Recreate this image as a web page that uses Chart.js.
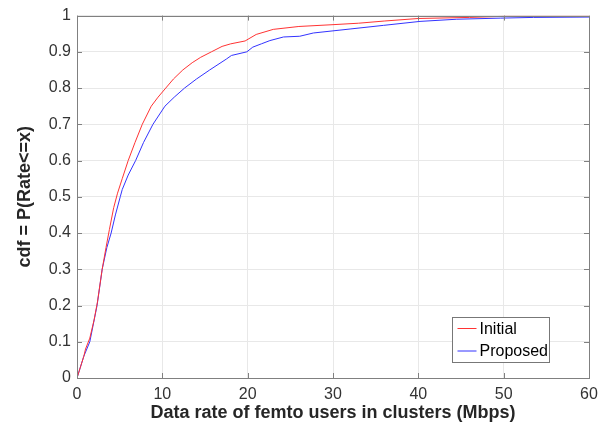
<!DOCTYPE html>
<html lang="en">
<head>
    <meta charset="UTF-8">
    <title>CDF of femto user data rate</title>
    <script src="https://cdn.jsdelivr.net/npm/chart.js"></script>
    <style>
        body { margin: 0; background: #fff; }
        #wrap { width: 611px; height: 428px; }
    </style>
</head>
<body>
<div id="wrap"><canvas id="cdfChart" width="611" height="428"></canvas></div>

<script>
    // data
    const initialX = [0, 0.4, 0.8, 1.0, 1.5, 2.0, 2.4, 2.95, 3.4, 3.8, 4.3, 4.75, 5.3, 6.0, 6.8, 7.65, 8.7, 9.5, 10.4, 11.3, 12.4, 13.5, 14.5, 15.75, 17.0, 18.0, 19.7, 21.0, 23.0, 26.0, 30.0, 33.0, 36.0, 40.0, 46.0, 50.0, 60.0];
    const initialY = [0, 0.03, 0.06, 0.08, 0.11, 0.16, 0.21, 0.30, 0.36, 0.41, 0.47, 0.51, 0.55, 0.60, 0.65, 0.70, 0.75, 0.775, 0.80, 0.825, 0.85, 0.87, 0.885, 0.90, 0.915, 0.922, 0.93, 0.948, 0.962, 0.970, 0.975, 0.979, 0.985, 0.992, 0.995, 0.998, 0.998];
    const proposedX = [0, 0.8, 1.5, 2.35, 2.95, 3.5, 4.0, 4.5, 5.07, 5.3, 6.0, 6.87, 7.8, 8.9, 10.3, 11.4, 12.6, 14.0, 15.55, 17.5, 18.1, 19.9, 20.6, 21.6, 22.6, 24.2, 26.1, 27.7, 32.0, 35.9, 40.2, 44.5, 49.6, 53.5, 60.0];
    const proposedY = [0, 0.06, 0.10, 0.20, 0.30, 0.36, 0.40, 0.45, 0.50, 0.52, 0.56, 0.60, 0.65, 0.70, 0.75, 0.775, 0.80, 0.825, 0.85, 0.88, 0.89, 0.90, 0.913, 0.922, 0.931, 0.941, 0.943, 0.952, 0.963, 0.973, 0.984, 0.990, 0.993, 0.995, 0.996];
    const seriesNames = ['Initial', 'Proposed'];
    const seriesColors = ['#ff3333', '#3333ff'];

    const toPoints = (xs, ys) => xs.map((x, i) => ({ x: x, y: ys[i] }));

    const fontFamily = '"Liberation Sans", Arial, Helvetica, sans-serif';
    const axisColor = '#808080';

    // box round the plot, inward tick marks and the legend inside the axes
    const matlabAxes = {
        id: 'matlabAxes',
        afterDraw(chart) {
            const ctx = chart.ctx;
            const a = chart.chartArea;
            const xs = chart.scales.x, ys = chart.scales.y;
            ctx.save();
            ctx.strokeStyle = axisColor;
            ctx.lineWidth = 1;
            ctx.beginPath();
            xs.ticks.forEach(t => {
                const px = Math.round(xs.getPixelForValue(t.value)) + 0.5;
                ctx.moveTo(px, a.bottom); ctx.lineTo(px, a.bottom - 5);
                ctx.moveTo(px, a.top); ctx.lineTo(px, a.top + 5);
            });
            ys.ticks.forEach(t => {
                const py = Math.round(ys.getPixelForValue(t.value)) + 0.5;
                ctx.moveTo(a.left, py); ctx.lineTo(a.left + 5, py);
                ctx.moveTo(a.right, py); ctx.lineTo(a.right - 5, py);
            });
            ctx.stroke();
            ctx.strokeRect(Math.round(a.left) + 0.5, Math.round(a.top) + 0.5,
                Math.round(a.right - a.left), Math.round(a.bottom - a.top));

            // legend box
            const lx = 452.5, ly = 317.5, lw = 97, lh = 45;
            ctx.fillStyle = '#fff';
            ctx.fillRect(lx, ly, lw, lh);
            ctx.strokeStyle = '#777';
            ctx.strokeRect(lx, ly, lw, lh);
            ctx.font = '16px ' + fontFamily;
            ctx.textBaseline = 'middle';
            chart.data.datasets.forEach((ds, i) => {
                const yy = ly + 11 + i * 22.5;
                ctx.strokeStyle = ds.borderColor;
                ctx.beginPath();
                ctx.moveTo(lx + 5, yy); ctx.lineTo(lx + 24, yy);
                ctx.stroke();
                ctx.fillStyle = '#000';
                ctx.fillText(ds.label, lx + 27, yy + 1);
            });
            ctx.restore();
        }
    };

    new Chart(document.getElementById('cdfChart'), {
        type: 'line',
        data: {
            datasets: [
                { label: seriesNames[0], data: toPoints(initialX, initialY), borderColor: seriesColors[0], borderWidth: 1, pointRadius: 0, tension: 0 },
                { label: seriesNames[1], data: toPoints(proposedX, proposedY), borderColor: seriesColors[1], borderWidth: 1, pointRadius: 0, tension: 0 }
            ]
        },
        options: {
            responsive: false,
            animation: false,
            layout: { padding: { left: 0, top: 13, right: 22, bottom: 0 } },
            plugins: { legend: { display: false }, tooltip: { enabled: false } },
            scales: {
                x: {
                    type: 'linear',
                    min: 0, max: 60,
                    ticks: { stepSize: 10, color: '#333', padding: 7, font: { size: 16, family: fontFamily } },
                    grid: { color: '#e8e8e8', drawTicks: false },
                    border: { display: false },
                    title: { display: true, text: 'Data rate of femto users in clusters (Mbps)', color: '#262626', font: { size: 18, weight: 'bold', family: fontFamily }, padding: { top: 0, bottom: 4 } },
                    afterFit: s => { s.height = 50; }
                },
                y: {
                    min: 0, max: 1,
                    ticks: { stepSize: 0.1, color: '#333', padding: 6, font: { size: 16, family: fontFamily },
                        callback: v => Number(v.toFixed(1)).toString() },
                    grid: { color: '#e8e8e8', drawTicks: false },
                    border: { display: false },
                    title: { display: true, text: 'cdf = P(Rate<=x)', color: '#262626', font: { size: 18, weight: 'bold', family: fontFamily }, padding: { top: 14, bottom: 0 } },
                    afterFit: s => { s.width = 77; }
                }
            }
        },
        plugins: [matlabAxes]
    });
</script>
</body>
</html>
